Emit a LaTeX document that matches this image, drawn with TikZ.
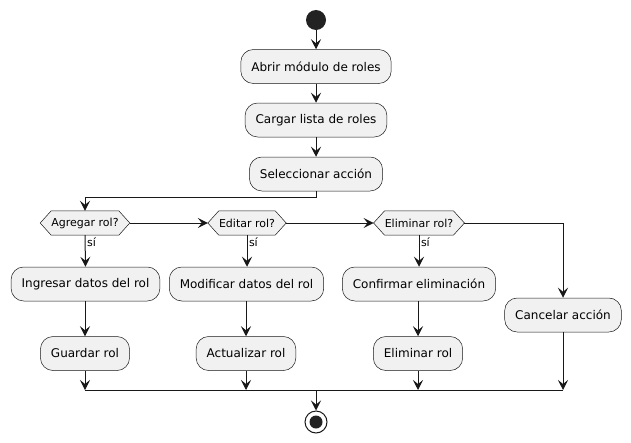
\documentclass[tikz,border=0pt]{standalone}
\usepackage{fontspec}
\setmainfont{DejaVu Sans}
\usetikzlibrary{arrows.meta,backgrounds}
\definecolor{actfill}{HTML}{F1F1F1}
\definecolor{actline}{HTML}{181818}
\definecolor{dotfill}{HTML}{222222}
\tikzset{
  actbox/.style={draw=actline, fill=actfill, line width=0.5pt, rounded corners=12.5pt,
    minimum height=34pt, inner xsep=10.5pt, inner ysep=0pt, font=\fontsize{12}{14}\selectfont},
  decnode/.style={inner xsep=11pt, inner ysep=0pt, minimum height=24pt, font=\fontsize{11}{13}\selectfont},
  flow/.style={draw=actline, line width=1pt, -{Stealth[length=10pt,width=10pt,inset=4pt]}},
  plainline/.style={draw=actline, line width=1pt},
  yeslabel/.style={font=\fontsize{11}{13}\selectfont, inner sep=1.5pt},
}
\newcommand{\hexshape}[1]{%
  \filldraw[draw=actline, fill=actfill, line width=0.5pt]
    ([xshift=11pt]#1.north west) -- ([xshift=-11pt]#1.north east) -- (#1.east)
    -- ([xshift=-11pt]#1.south east) -- ([xshift=11pt]#1.south west) -- (#1.west) -- cycle;}
\begin{document}
\begin{tikzpicture}[x=1pt,y=-1pt]
  \useasboundingbox (0,0) rectangle (631,442);

  % start and first actions
  \node[circle, fill=dotfill, minimum size=20pt, inner sep=0pt] (start) at (316,20) {};
  \node[actbox] (abrir) at (316,66.5) {Abrir módulo de roles};
  \node[actbox] (cargar) at (316,120) {Cargar lista de roles};
  \node[actbox] (selec) at (316,174) {Seleccionar acción};

  % decisions
  \node[decnode] (agregar) at (85,223) {Agregar rol?};
  \node[decnode] (editar) at (247,223) {Editar rol?};
  \node[decnode] (eliminar) at (419,223) {Eliminar rol?};
  \begin{scope}[on background layer]
    \hexshape{agregar}
    \hexshape{editar}
    \hexshape{eliminar}
  \end{scope}

  % branch actions
  \node[actbox] (ingresar) at (85.5,284) {Ingresar datos del rol};
  \node[actbox] (modificar) at (246.5,284) {Modificar datos del rol};
  \node[actbox] (confirmar) at (419,284) {Confirmar eliminación};
  \node[actbox] (cancelar) at (563,315) {Cancelar acción};
  \node[actbox] (guardar) at (85,353.5) {Guardar rol};
  \node[actbox] (actualizar) at (246,353.5) {Actualizar rol};
  \node[actbox] (elimrol) at (418,353.5) {Eliminar rol};

  % merge bar and end
  \coordinate (barL) at (85,390);
  \coordinate (barR) at (563,390);
  \coordinate (barM) at (316,390);
  \node[circle, draw=actline, fill=white, line width=1pt, minimum size=22pt, inner sep=0pt] (stop) at (316,422) {};
  \fill[dotfill] (stop.center) circle (6.5pt);

  % connectors
  \draw[flow] (start) -- (abrir);
  \draw[flow] (abrir) -- (cargar);
  \draw[flow] (cargar) -- (selec);
  \draw[flow] (selec.south) -- ++(0,6) -| (agregar.north);
  \draw[flow] (agregar.east) -- (editar.west);
  \draw[flow] (editar.east) -- (eliminar.west);
  \draw[flow] (eliminar.east) -| (cancelar.north);

  \draw[flow] (agregar.south) -- node[pos=0.22, anchor=west, yeslabel] {sí} (ingresar.north);
  \draw[flow] (editar.south) -- node[pos=0.22, anchor=west, yeslabel] {sí} (modificar.north -| editar.south);
  \draw[flow] (eliminar.south) -- node[pos=0.22, anchor=west, yeslabel] {sí} (confirmar.north);

  \draw[flow] (ingresar.south -| guardar) -- (guardar.north);
  \draw[flow] (modificar.south -| actualizar) -- (actualizar.north);
  \draw[flow] (confirmar.south -| elimrol) -- (elimrol.north);

  \draw[flow] (guardar.south) -- (guardar.south |- barL);
  \draw[flow] (actualizar.south) -- (actualizar.south |- barL);
  \draw[flow] (elimrol.south) -- (elimrol.south |- barL);
  \draw[flow] (cancelar.south) -- (cancelar.south |- barL);
  \draw[plainline] (barL) -- (barR);
  \draw[flow] (barM) -- (stop);
\end{tikzpicture}
\end{document}
